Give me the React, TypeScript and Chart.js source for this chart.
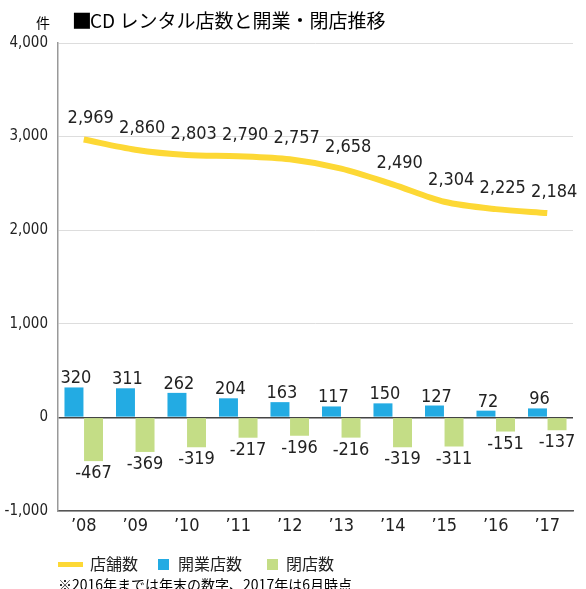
import React, { useEffect, useRef } from "react";
import { Chart, registerables } from "chart.js";

Chart.register(...registerables);

const years = ["’08", "’09", "’10", "’11", "’12", "’13", "’14", "’15", "’16", "’17"];
const storeCounts = [2969, 2860, 2803, 2790, 2757, 2658, 2490, 2304, 2225, 2184];
const openedCounts = [320, 311, 262, 204, 163, 117, 150, 127, 72, 96];
const closedCounts = [-467, -369, -319, -217, -196, -216, -319, -311, -151, -137];
const yTicks = [-1000, 0, 1000, 2000, 3000, 4000];

const seriesNames = ["店舗数", "開業店数", "閉店数"];
const titleMark = "■";
const titleText = "CD レンタル店数と開業・閉店推移";
const unitText = "件";
const noteText = "※2016年までは年末の数字、2017年は6月時点";

const YELLOW = "#FDD835";
const BLUE = "#23ABE3";
const GREEN = "#C4DD86";
const TEXT = "#222222";

const NUM_FONT = '"Liberation Sans Narrow", "DejaVu Sans Condensed", "Liberation Sans", sans-serif';
const JP_FONT = '"Noto Sans CJK JP", sans-serif';

const fmt = (v: number) => v.toLocaleString("en-US");

const labelPlugin = {
  id: "customLabels",
  afterDatasetsDraw(chart: any) {
    const ctx = chart.ctx;
    ctx.save();
    ctx.fillStyle = TEXT;
    ctx.textAlign = "center";
    ctx.font = `18px ${NUM_FONT}`;
    ctx.textBaseline = "middle";
    const lineMeta = chart.getDatasetMeta(0);
    lineMeta.data.forEach((pt: any, i: number) => {
      ctx.fillText(fmt(storeCounts[i]), pt.x + 7, pt.y - 21);
    });
    ctx.textBaseline = "alphabetic";
    const openMeta = chart.getDatasetMeta(1);
    openMeta.data.forEach((bar: any, i: number) => {
      ctx.fillText(fmt(openedCounts[i]), bar.x + 2, bar.y - 4);
    });
    const closeMeta = chart.getDatasetMeta(2);
    closeMeta.data.forEach((bar: any, i: number) => {
      ctx.fillText(fmt(closedCounts[i]), bar.x, bar.y + 17);
    });
    ctx.restore();
  },
  afterDraw(chart: any) {
    const ctx = chart.ctx;
    ctx.save();
    ctx.fillStyle = "#000";
    ctx.textBaseline = "middle";
    // unit + title
    ctx.font = `14px ${JP_FONT}`;
    ctx.textAlign = "center";
    ctx.fillText(unitText, 43, 23);
    ctx.textAlign = "left";
    ctx.font = `21px "DejaVu Sans", sans-serif`;
    ctx.fillText(titleMark, 72, 21);
    ctx.font = `19px ${JP_FONT}`;
    ctx.fillText(titleText, 90, 21);
    // legend
    ctx.fillStyle = TEXT;
    ctx.strokeStyle = YELLOW;
    ctx.lineWidth = 5;
    ctx.beginPath();
    ctx.moveTo(58, 564.5);
    ctx.lineTo(83, 564.5);
    ctx.stroke();
    ctx.font = `16px ${JP_FONT}`;
    ctx.fillText(seriesNames[0], 90, 564);
    ctx.fillStyle = BLUE;
    ctx.fillRect(158, 559, 11, 11);
    ctx.fillStyle = TEXT;
    ctx.fillText(seriesNames[1], 178, 564);
    ctx.fillStyle = GREEN;
    ctx.fillRect(267, 559, 11, 11);
    ctx.fillStyle = TEXT;
    ctx.fillText(seriesNames[2], 286, 564);
    // footnote
    ctx.textBaseline = "alphabetic";
    ctx.font = `14px ${JP_FONT}`;
    ctx.fillStyle = "#000";
    ctx.fillText(noteText, 58, 590);
    ctx.restore();
  },
};

export default function App() {
  const canvasRef = useRef<HTMLCanvasElement | null>(null);

  useEffect(() => {
    document.body.style.margin = "0";
    const canvas = canvasRef.current;
    if (!canvas) return;
    const chart = new Chart(canvas, {
      type: "bar",
      data: {
        labels: years,
        datasets: [
          {
            type: "line",
            label: seriesNames[0],
            data: storeCounts,
            borderColor: YELLOW,
            backgroundColor: YELLOW,
            borderWidth: 6,
            pointRadius: 0,
            tension: 0.3,
            order: 0,
          } as any,
          {
            type: "bar",
            label: seriesNames[1],
            data: openedCounts,
            backgroundColor: BLUE,
            categoryPercentage: 0.76,
            barPercentage: 0.97,
            order: 1,
          },
          {
            type: "bar",
            label: seriesNames[2],
            data: closedCounts,
            backgroundColor: GREEN,
            categoryPercentage: 0.76,
            barPercentage: 0.97,
            order: 1,
          },
        ],
      },
      options: {
        responsive: false,
        animation: false,
        devicePixelRatio: 1,
        layout: { padding: { top: 43, right: 13, bottom: 48, left: 0 } },
        plugins: {
          legend: { display: false },
          tooltip: { enabled: false },
          title: { display: false },
        },
        scales: {
          x: {
            grid: { display: false, drawTicks: false },
            border: { display: true, color: "#555", width: 1.5 },
            ticks: {
              color: TEXT,
              font: { size: 18, family: NUM_FONT },
              padding: 5,
              maxRotation: 0,
            },
            afterFit: (s: any) => {
              s.height = 30;
            },
          },
          y: {
            min: yTicks[0],
            max: yTicks[yTicks.length - 1],
            afterBuildTicks: (s: any) => {
              s.ticks = yTicks.map((v) => ({ value: v }));
            },
            grid: {
              drawTicks: false,
              color: (c: any) => (c.tick && c.tick.value === 0 ? "#444" : "#dddddd"),
              lineWidth: (c: any) => (c.tick && c.tick.value === 0 ? 1.5 : 1),
            },
            border: { display: true, color: "#999", width: 1.5 },
            ticks: {
              color: TEXT,
              font: { size: 15, family: NUM_FONT },
              padding: 10,
              callback: (v: any) => fmt(Number(v)),
            },
            afterFit: (s: any) => {
              s.width = 58;
            },
          },
        },
      },
      plugins: [labelPlugin],
    });
    return () => chart.destroy();
  }, []);

  return (
    <div style={{ position: "absolute", left: 0, top: 0, width: 586, height: 589, background: "#fff" }}>
      <canvas ref={canvasRef} width={586} height={589} style={{ width: 586, height: 589 }} />
    </div>
  );
}
